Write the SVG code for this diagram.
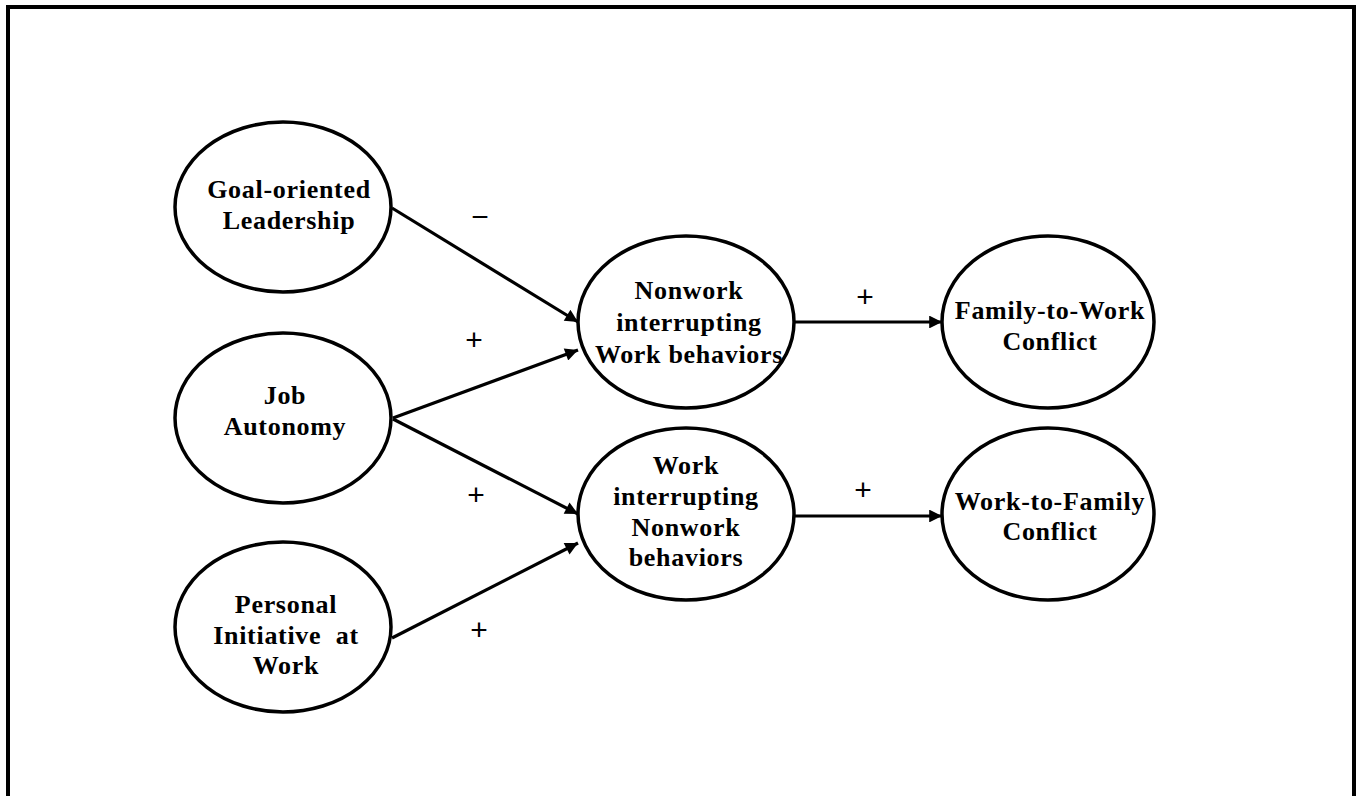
<svg xmlns="http://www.w3.org/2000/svg" width="1360" height="796" viewBox="0 0 1360 796">
<style>
.node ellipse{fill:#fff;stroke:#000;stroke-width:3.5}
.node text{font-family:"Liberation Serif","DejaVu Serif",serif;font-weight:bold;font-size:26px;letter-spacing:0.7px;text-anchor:middle;fill:#000}
.conn line{stroke:#000;stroke-width:3.2;marker-end:url(#ah)}
.sign{font-family:"Liberation Sans","DejaVu Sans",sans-serif;font-size:30px;text-anchor:middle;fill:#000}
</style>
<defs>
<marker id="ah" viewBox="0 0 10 10" refX="10" refY="5" markerWidth="5" markerHeight="4" orient="auto" markerUnits="strokeWidth">
<path d="M0,0 L10,5 L0,10 z" fill="#000"/>
</marker>
</defs>
<rect x="0" y="0" width="1360" height="796" fill="#fff"/>
<path d="M8,800 V7 H1354 V800" fill="none" stroke="#000" stroke-width="4"/>
<g id="connectors" class="conn">
<line x1="392" y1="208" x2="578" y2="322"/>
<line x1="393" y1="418" x2="578" y2="350"/>
<line x1="393" y1="419" x2="578" y2="514"/>
<line x1="392" y1="638" x2="578" y2="543"/>
<line x1="795" y1="322" x2="942" y2="322"/>
<line x1="795" y1="516" x2="942" y2="516"/>
</g>
<g id="signs">
<text class="sign" x="480" y="227">−</text>
<text class="sign" x="474" y="350">+</text>
<text class="sign" x="476" y="505">+</text>
<text class="sign" x="479" y="640">+</text>
<text class="sign" x="865" y="307">+</text>
<text class="sign" x="863" y="500">+</text>
</g>
<g id="goal" class="node">
<ellipse cx="283" cy="207" rx="108" ry="85"/>
<text x="289" y="198">Goal-oriented</text>
<text x="289" y="229">Leadership</text>
</g>
<g id="autonomy" class="node">
<ellipse cx="283" cy="418" rx="108" ry="85"/>
<text x="285" y="404">Job</text>
<text x="285" y="435">Autonomy</text>
</g>
<g id="initiative" class="node">
<ellipse cx="283" cy="627" rx="108" ry="85"/>
<text x="286" y="613">Personal</text>
<text x="286" y="644" xml:space="preserve" style="white-space:pre">Initiative  at</text>
<text x="286" y="674">Work</text>
</g>
<g id="nonwork" class="node">
<ellipse cx="686" cy="322" rx="108" ry="86"/>
<text x="689" y="299">Nonwork</text>
<text x="689" y="331">interrupting</text>
<text x="689" y="363">Work behaviors</text>
</g>
<g id="work" class="node">
<ellipse cx="686" cy="514" rx="108" ry="86"/>
<text x="686" y="474">Work</text>
<text x="686" y="505">interrupting</text>
<text x="686" y="536">Nonwork</text>
<text x="686" y="566">behaviors</text>
</g>
<g id="ftw" class="node">
<ellipse cx="1048" cy="322" rx="106" ry="86"/>
<text x="1050" y="319">Family-to-Work</text>
<text x="1050" y="350">Conflict</text>
</g>
<g id="wtf" class="node">
<ellipse cx="1048" cy="514" rx="106" ry="86"/>
<text x="1050" y="510">Work-to-Family</text>
<text x="1050" y="540">Conflict</text>
</g>
</svg>
